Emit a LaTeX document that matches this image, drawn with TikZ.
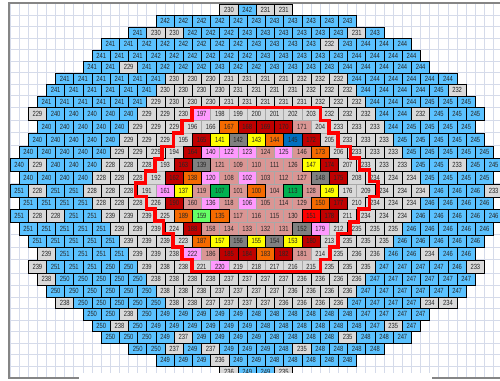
\documentclass[tikz,border=0pt]{standalone}
\usepackage{fontspec}
\newfontfamily\cellf[FakeStretch=0.78]{Liberation Sans}
\definecolor{cblue}{HTML}{5BC2FF}
\definecolor{cgrey}{HTML}{D9D9D9}
\definecolor{csalmon}{HTML}{DA9694}
\definecolor{cpink}{HTML}{FF99FF}
\definecolor{corange}{HTML}{F56A00}
\definecolor{cdkred}{HTML}{C00000}
\definecolor{cred}{HTML}{FF0000}
\definecolor{cyellow}{HTML}{FFFF00}
\definecolor{cdkgrey}{HTML}{808080}
\definecolor{cgreen}{HTML}{00B050}
\definecolor{cltgreen}{HTML}{66FF66}
\definecolor{cdkblue}{HTML}{0070C0}
\definecolor{clight}{HTML}{A8A8A8}
\definecolor{cdark}{HTML}{000000}
\definecolor{cgrid}{HTML}{D5DBEA}
\definecolor{cframe}{HTML}{858585}
\newcommand\setcols[3]{\foreach \q in {#3}{\expandafter\xdef\csname vc\q\endcsname{#1}\expandafter\xdef\csname vb\q\endcsname{#2}}}
\setcols{csalmon}{clight}{101,103,104,105,108,109,110,111,112,114,115,116,117,118,119,121,124,126,127,128,129,130,131,132,133,134,146,158,160,171,181,186}
\setcols{cpink}{clight}{102,106,120,122,123,125,136,140,161,179,197,220,222}
\setcols{corange}{cdark}{100,135,138,144,150,167,173,183,187,189}
\setcols{cgreen}{cdark}{107,113}
\setcols{cyellow}{cdark}{137,141,143,147,149,153,155,157}
\setcols{cdkgrey}{cdark}{139,142,148,152,154,156}
\setcols{cdkblue}{cdark}{145}
\setcols{cred}{cdark}{151}
\setcols{cltgreen}{cdark}{159}
\setcols{cdkred}{cdark}{162,163,164,165,168,169,170,172,174,175,177,178,180,182,184,185,188,190}
\tikzset{
  cellbox/.style={rectangle,inner sep=0pt,outer sep=0pt,minimum width=13.69pt,line width=0.7pt,
    font=\cellf\fontsize{5.6}{6}\selectfont,text=black!85},
  gridline/.style={draw=cgrid,line width=0.75pt},
  framebar/.style={draw=cframe,line width=1.6pt},
  zoneline/.style={draw=red,line width=2.4pt,line join=miter}
}
\begin{document}
\begin{tikzpicture}[x=0.75pt,y=-0.75pt]
\useasboundingbox (0,0) rectangle (500,381);
\clip (0,0) rectangle (500,381);
\fill[white] (0,0) rectangle (500,381);
% sheet grid
\foreach \n in {0,...,53}{\draw[gridline] ({10+\n*9.125},4) -- ({10+\n*9.125},377);}
\foreach \g in {15.5,27,38.5,50,61.5,73,84.5,96,107.5,120.5,133,146,158.5,171,184,197,209.5,222,235,247.5,260,273,285.5,297,308.5,320,331.5,343,354.5,366}{\draw[gridline] (10,\g) -- (500,\g);}
% bricks
\foreach \pass in {1,2}{
\foreach \xo/\yc/\hh/\vals/\rr in {
229/10/11/{230,242,231,231}/a,
165.125/21.25/11.5/{242,242,242,242,242,243,243,243,243,243,243}/b,
137.75/32.75/11.5/{241,230,230,242,242,242,243,243,243,243,243,243,231,243}/c,
110.375/44.25/11.5/{241,241,242,242,242,242,242,242,243,243,243,243,232,243,244,244,244}/d,
101.25/55.75/11.5/{241,241,241,242,242,242,242,242,242,243,243,243,243,243,244,244,244,244}/e,
92.125/67.25/11.5/{241,241,229,241,242,242,242,243,242,242,243,243,243,243,244,244,244,244,244}/f,
64.75/78.75/11.5/{241,241,241,241,241,241,230,230,230,231,231,231,231,232,232,232,244,244,244,244,244,244}/g,
55.625/90.25/11.5/{241,241,241,241,241,241,230,230,230,230,231,231,231,231,232,232,232,244,244,244,244,245,232}/h,
46.5/101.75/11.5/{241,241,241,241,241,241,229,230,230,230,231,231,231,231,231,232,232,232,244,244,244,245,245,245}/i,
37.375/114/13/{229,240,240,240,240,240,229,229,230,197,198,199,200,201,202,203,232,232,232,244,244,232,245,245,245}/j,
46.5/126.75/12.5/{240,240,240,240,240,229,229,229,196,166,167,168,169,170,171,204,233,233,233,244,245,245,245,245}/k,
37.375/139.5/13/{240,240,240,240,240,229,229,229,195,165,141,142,143,144,145,172,205,233,233,233,245,245,245,245,245}/l,
28.25/152.25/12.5/{240,240,240,240,240,229,229,229,194,164,140,122,123,124,125,146,173,206,233,233,233,245,245,245,245,245}/m,
19.125/164.75/12.5/{240,229,240,240,240,228,228,228,193,163,139,121,109,110,111,126,147,174,207,233,233,233,245,245,233,245,245}/n,
28.25/177.5/13/{240,240,240,240,228,228,228,192,162,138,120,108,102,103,112,127,148,175,208,234,234,234,245,245,245,245}/o,
19.125/190.5/13/{251,228,251,251,228,228,228,191,161,137,119,107,101,100,104,113,128,149,176,209,234,234,234,246,246,246,233}/p,
28.25/203.25/12.5/{251,251,251,251,228,228,228,226,190,160,136,118,106,105,114,129,150,177,210,234,234,234,246,246,246,246}/q,
19.125/215.75/12.5/{251,228,228,251,251,239,239,239,225,189,159,135,117,116,115,130,151,178,211,234,234,234,246,246,246,246,246}/r,
28.25/228.5/13/{251,251,251,251,251,239,239,239,224,188,158,134,133,132,131,152,179,212,235,235,235,246,246,246,246,246}/s,
37.375/241.25/12.5/{251,251,251,251,251,239,239,239,223,187,157,156,155,154,153,180,213,235,235,235,246,246,246,246,246}/t,
46.5/253.75/12.5/{239,251,251,251,251,239,239,238,222,186,185,184,183,182,181,214,235,236,236,246,246,234,246,246}/u,
37.375/266.5/13/{239,251,251,251,250,250,239,238,238,221,220,219,218,217,216,215,235,235,235,247,247,247,247,246,233}/v,
46.5/279.25/12.5/{238,250,250,250,250,250,238,238,238,238,237,237,237,237,236,236,236,236,247,247,247,247,247,247}/w,
55.625/291.25/11.5/{250,250,250,250,250,250,238,238,238,237,237,237,237,236,236,236,236,247,247,247,247,247,247}/x,
64.75/302.75/11.5/{238,250,250,250,250,250,238,238,237,237,237,237,236,236,236,236,247,247,247,247,234,234}/y,
92.125/314.25/11.5/{250,250,238,250,249,249,249,249,249,248,248,248,248,248,248,247,247,247,247}/z,
101.25/325.75/11.5/{250,238,250,249,249,249,249,249,249,248,248,248,248,248,248,247,235,247}/aa,
110.375/337.25/11.5/{250,250,250,249,237,249,249,249,249,248,248,248,248,235,248,248,247}/ab,
137.75/348.75/11.5/{250,250,237,249,237,249,249,249,248,235,248,248,248,248}/ac,
165.125/360.25/11.5/{249,249,249,236,249,249,248,248,248,248,248}/ad,
229/371.75/11.5/{236,249,249,235}/ae}{
  \foreach \v [count=\i from 0] in \vals {
    \ifcsname vc\v\endcsname
      \edef\cc{\csname vc\v\endcsname}\edef\bb{\csname vb\v\endcsname}%
    \else
      \ifnum\v>239 \def\cc{cblue}\def\bb{cdark}\else
        \def\cc{cgrey}\ifnum\v<223 \def\bb{clight}\else\def\bb{cdark}\fi
      \fi
    \fi
    \def\lg{clight}%
    \ifx\bb\lg \def\pp{1}\else\def\pp{2}\fi
    \ifnum\pp=\pass
      \node[cellbox,fill=\cc,draw=\bb,minimum height=\hh*0.75pt] (\rr\i) at ({\xo+\i*18.25},\yc) {\v};
    \fi
  }
}}
% red zone outline
\draw[zoneline] (192,107.5) -- (320.5,107.5) -- (320.5,120.5) -- (329,120.5) -- (329,133) -- (338,133) -- (338,146.5) -- (350.5,146.5) -- (350.5,158) -- (359.5,158) -- (359.5,170) -- (369.5,170) -- (369.5,181.5) -- (378,181.5) -- (378,196.5) -- (369.5,196.5) -- (369.5,209) -- (358.5,209) -- (358.5,222) -- (350,222) -- (350,233.5) -- (338,233.5) -- (338,247) -- (330,247) -- (330,259.5) -- (320.5,259.5) -- (320.5,271.5) -- (192,271.5) -- (192,259.5) -- (182,259.5) -- (182,247) -- (173,247) -- (173,233.5) -- (163.5,233.5) -- (163.5,221) -- (155,221) -- (155,209) -- (146.5,209) -- (146.5,196.5) -- (135.5,196.5) -- (135.5,183) -- (145.5,183) -- (145.5,171) -- (155,171) -- (155,159) -- (162,159) -- (162,146.5) -- (173.5,146.5) -- (173.5,133) -- (182,133) -- (182,120.5) -- (192,120.5) -- cycle;
% window edge and the blank strip over it
\fill[white] (79,372.5) rectangle (432,381);
\draw[framebar] (500,3) -- (9,3) -- (9,378) -- (79,378);
\draw[framebar] (432,378) -- (500,378);
\end{tikzpicture}
\end{document}
